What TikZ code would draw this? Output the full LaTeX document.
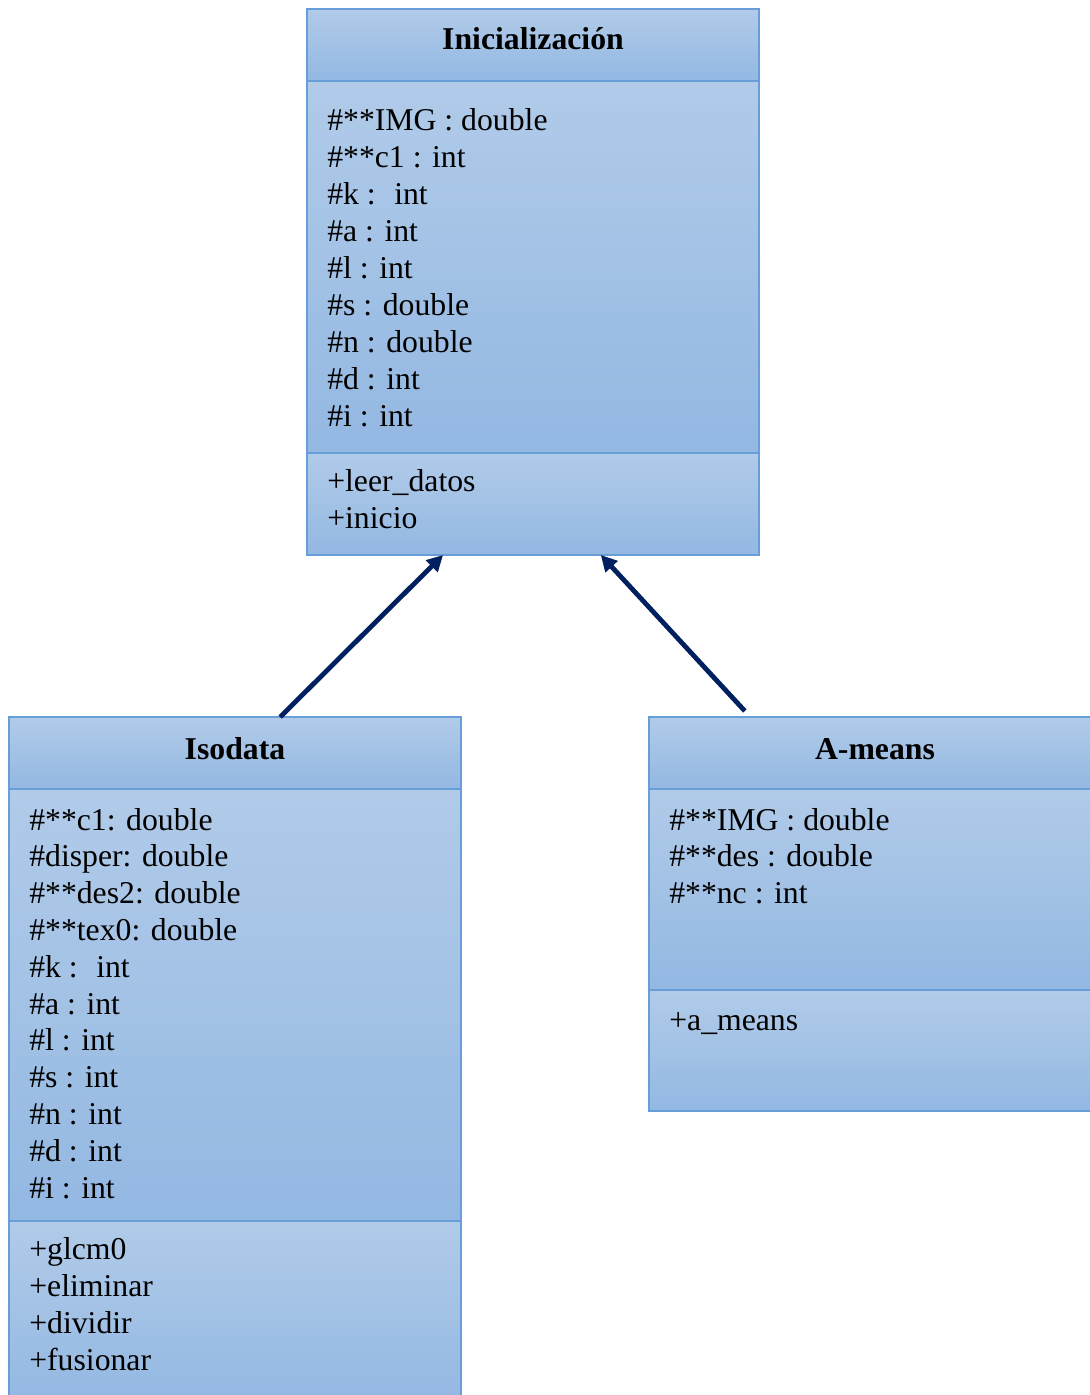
\documentclass[tikz,border=0pt]{standalone}
\usepackage{fontspec}
\setmainfont{Liberation Serif}
\usetikzlibrary{arrows.meta,calc}
\definecolor{topc}{RGB}{177,203,233}
\definecolor{botc}{RGB}{147,184,226}
\definecolor{edgec}{RGB}{104,158,216}
\definecolor{navyc}{RGB}{0,32,96}
\begin{document}
\begin{tikzpicture}[x=0.75pt,y=-0.75pt,
  comp/.style={rectangle, draw=edgec, line width=1pt, top color=topc, bottom color=botc,
    minimum width=339pt, anchor=north west, inner sep=0pt, outer sep=0pt},
  attr/.style={anchor=base west, inner sep=0pt, font=\fontsize{23.8}{27.75}\selectfont},
  ttl/.style={anchor=base, inner sep=0pt, font=\fontsize{23.8}{27.75}\selectfont\bfseries},
  gen/.style={draw=navyc, line width=3.6pt, -{Triangle[length=12pt,width=12pt]}}]
\useasboundingbox (0,0) rectangle (1089,1395);

% Inicializacion
\node[comp, minimum height=54pt] (iniT) at (307,9) {};
\node[comp, minimum height=279pt] (iniA) at (307,81) {};
\node[comp, minimum height=76.5pt] (iniM) at (307,453) {};
\node[ttl] (iniTt) at (533,50) {Inicialización};
\foreach \t [count=\i] in {{\#**IMG : double},{\#**c1 : int},{\#k : \ int},{\#a : int},{\#l : int},{\#s : double},{\#n : double},{\#d : int},{\#i : int}}
  \node[attr] (ia\i) at (327,{130+37*(\i-1)}) {\t};
\foreach \t [count=\i] in {{+leer\_datos},{+inicio}}
  \node[attr] (im\i) at (327,{491+37*(\i-1)}) {\t};

% Isodata
\node[comp, minimum height=54pt] (isoT) at (9,717) {};
\node[comp, minimum height=324pt] (isoA) at (9,789) {};
\node[comp, minimum height=137pt] (isoM) at (9,1221) {};
\node[ttl] (isoTt) at (235,759) {Isodata};
\foreach \t [count=\i] in {{\#**c1: double},{\#disper: double},{\#**des2: double},{\#**tex0: double},{\#k : \ int},{\#a : int},{\#l : int},{\#s : int},{\#n : int},{\#d : int},{\#i : int}}
  \node[attr] (sa\i) at (29,{830+36.8*(\i-1)}) {\t};
\foreach \t [count=\i] in {{+glcm0},{+eliminar},{+dividir},{+fusionar}}
  \node[attr] (sm\i) at (29,{1259+37*(\i-1)}) {\t};

% A-means
\node[comp, minimum height=54pt] (amT) at (649,717) {};
\node[comp, minimum height=150.75pt] (amA) at (649,789) {};
\node[comp, minimum height=90.75pt] (amM) at (649,990) {};
\node[ttl] (amTt) at (875,759) {A-means};
\foreach \t [count=\i] in {{\#**IMG : double},{\#**des : double},{\#**nc : int}}
  \node[attr] (aa\i) at (669,{830+36.8*(\i-1)}) {\t};
\node[attr] (am1) at (669,1030) {+a\_means};

% generalizations
\coordinate (s1) at ($(isoT.north west)!0.6!(isoT.north east)$);
\coordinate (e1) at ($(iniM.south west)!0.301!(iniM.south east)$);
\coordinate (s2) at ($(amT.north west)!0.212!(amT.north east)+(0,-6)$);
\coordinate (e2) at ($(iniM.south west)!0.65!(iniM.south east)$);
\draw[gen] (s1) -- (e1);
\draw[gen] (s2) -- (e2);
\end{tikzpicture}
\end{document}
